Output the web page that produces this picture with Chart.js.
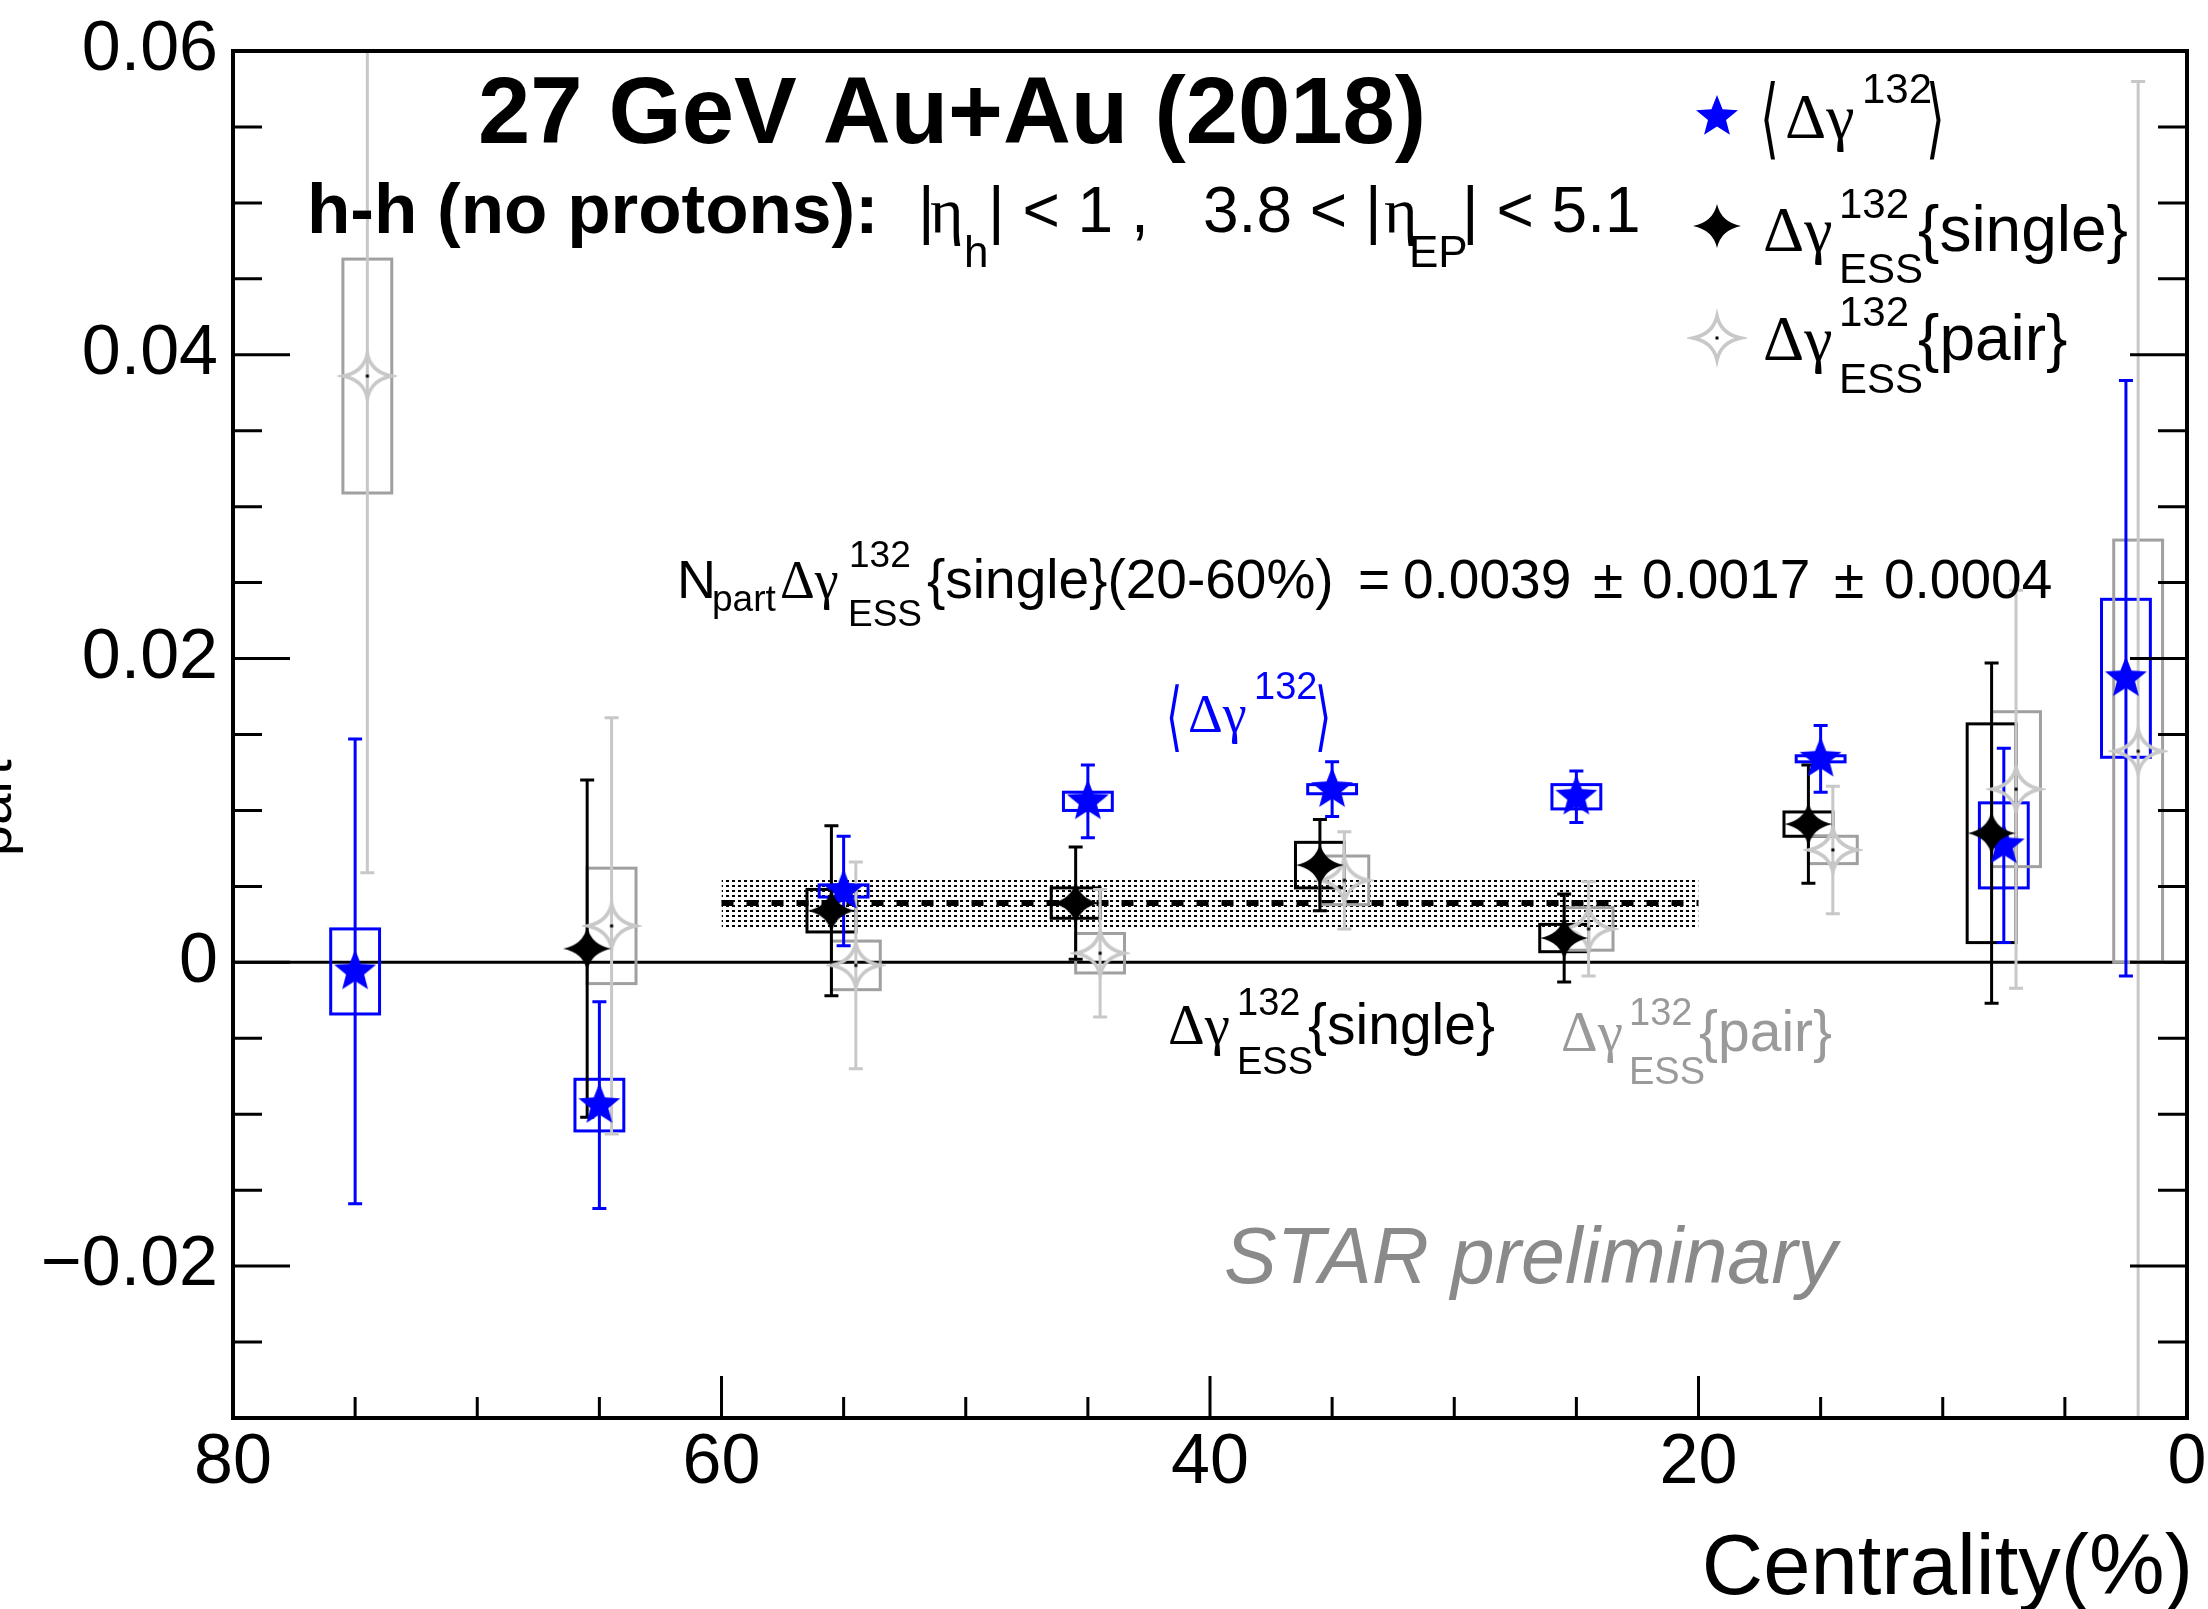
<!DOCTYPE html>
<html>
<head>
<meta charset="utf-8">
<title>27 GeV Au+Au (2018) - gamma132 vs centrality</title>
<script src="https://cdn.jsdelivr.net/npm/chart.js@4.4.1/dist/chart.umd.min.js"></script>
<style>
  html, body { margin: 0; padding: 0; background: #fff; }
  #wrap { width: 2208px; height: 1609px; }
</style>
</head>
<body>
<div id="wrap"><canvas id="gammaChart" width="2208" height="1609"></canvas></div>
<script>
// centrality bin centres (%)
const centrality = [75, 65, 55, 45, 35, 25, 15, 7.5, 2.5];

// <dgamma132> (blue stars)
const meanGamma = [-0.0006, -0.0094, 0.0047, 0.0106, 0.0114, 0.0109, 0.0134, 0.0077, 0.0187];
const meanStat = [0.0153, 0.0068, 0.0036, 0.0024, 0.0018, 0.0017, 0.0022, 0.0064, 0.0196];
const meanSys = [0.0028, 0.0017, 0.0004, 0.0006, 0.0003, 0.0008, 0.0002, 0.0028, 0.0052];

// dgamma132_ESS{single} (black stars), no 70-80% / 0-5% points
const singleCentrality = [65, 55, 45, 35, 25, 15, 7.5];
const singleGamma = [0.0009, 0.0034, 0.0039, 0.0064, 0.0016, 0.0091, 0.0085];
const singleStat = [0.0111, 0.0056, 0.0037, 0.0030, 0.0029, 0.0039, 0.0112];
const singleSys = [0, 0.0014, 0.0010, 0.0015, 0.0009, 0.0008, 0.0072];

// dgamma132_ESS{pair} (grey open stars)
const pairGamma = [0.0386, 0.0024, -0.0002, 0.0006, 0.0054, 0.0022, 0.0074, 0.0114, 0.0139];
const pairStat = [0.0327, 0.0137, 0.0068, 0.0042, 0.0032, 0.0031, 0.0042, 0.0131, 0.0441];
const pairSys = [0.0077, 0.0038, 0.0016, 0.0013, 0.0016, 0.0014, 0.0009, 0.0051, 0.0139];

// Npart * dgamma{single} averaged over 20-60%
const bandRange = [60, 20];
const bandValue = [0.0039];
const bandStat = [0.0017];

// axis ticks
const xTicks = [80, 60, 40, 20, 0];
const yTicks = [0.06, 0.04, 0.02, 0, -0.02];

const FONT = '"Liberation Sans", Arial, Helvetica, sans-serif';
const GREEK = '"Liberation Serif", "Times New Roman", serif';
const BRACKET = '"DejaVu Sans", sans-serif';
const CAP = 7;        // half width of error bar caps (px)
const BOX_HALF = 1.0; // half width of systematic boxes (centrality units)

// marker images (ROOT-like stars)
function makeMarker(kind) {
    const size = 60;
    const c = document.createElement('canvas');
    c.width = size;
    c.height = size;
    const g = c.getContext('2d');
    g.translate(size / 2, size / 2);
    if (kind === 'star5') {
        const R = 22, r = 9.5;
        g.beginPath();
        for (let k = 0; k < 10; k++) {
            const rad = k % 2 === 0 ? R : r;
            const ang = -Math.PI / 2 + k * Math.PI / 5;
            g.lineTo(rad * Math.cos(ang), rad * Math.sin(ang));
        }
        g.closePath();
        g.fillStyle = '#0000ff';
        g.fill();
    } else {
        const rx = 24, ry = 22, k = 4;
        g.beginPath();
        g.moveTo(rx, 0);
        g.quadraticCurveTo(k, k, 0, ry);
        g.quadraticCurveTo(-k, k, -rx, 0);
        g.quadraticCurveTo(-k, -k, 0, -ry);
        g.quadraticCurveTo(k, -k, rx, 0);
        g.closePath();
        if (kind === 'star4') {
            g.fillStyle = '#000';
            g.fill();
        } else {
            g.strokeStyle = '#c8c8c8';
            g.lineWidth = 3.5;
            g.stroke();
            g.fillStyle = '#000';
            g.fillRect(-1.5, -1.5, 3, 3);
        }
    }
    return c;
}

const markers = {
    mean: makeMarker('star5'),
    single: makeMarker('star4'),
    pair: makeMarker('open4')
};

// x axis is reversed: +0.5 shifts a point to the left on screen
const series = [
    { key: 'single', off: 0.5, cent: singleCentrality, val: singleGamma, stat: singleStat, sys: singleSys, errColor: '#000000', boxColor: '#000000' },
    { key: 'mean', off: 0, cent: centrality, val: meanGamma, stat: meanStat, sys: meanSys, errColor: '#0000ff', boxColor: '#0000ff' },
    { key: 'pair', off: -0.5, cent: centrality, val: pairGamma, stat: pairStat, sys: pairSys, errColor: '#c8c8c8', boxColor: '#a0a0a0' }
];

function points(s) {
    return s.cent.map((c, i) => ({ x: c + s.off, y: s.val[i] }));
}

function txt(ctx, s, x, y, size, opts) {
    opts = opts || {};
    ctx.save();
    ctx.font = (opts.style || '') + ' ' + (opts.weight || '') + ' ' + size + 'px ' + (opts.family || FONT);
    ctx.fillStyle = opts.color || '#000';
    ctx.textAlign = opts.align || 'left';
    ctx.textBaseline = 'alphabetic';
    ctx.translate(x, y);
    if (opts.sx) ctx.scale(opts.sx, 1);
    ctx.fillText(s, 0, 0);
    ctx.restore();
}

// Δγ^132_ESS{...}
function gammaLabel(ctx, x, y, big, small, scriptX, supDy, subDy, braceX, brace, color) {
    txt(ctx, 'Δγ', x, y, big, { color: color, family: GREEK });
    txt(ctx, '132', scriptX, y - supDy, small, { color: color });
    txt(ctx, 'ESS', scriptX, y + subDy, small, { color: color });
    txt(ctx, brace, braceX, y, big, { color: color });
}

const rootStyle = {
    id: 'rootStyle',
    beforeDatasetDraw(chart, args) {
        const ds = chart.data.datasets[args.index];
        if (ds.id !== 'mean') return;
        const { ctx, chartArea: a, scales: { x, y } } = chart;
        ctx.save();
        ctx.beginPath();
        ctx.rect(a.left, a.top, a.right - a.left, a.bottom - a.top);
        ctx.clip();
        ctx.lineWidth = 3;
        // systematic boxes
        series.forEach(s => {
            ctx.strokeStyle = s.boxColor;
            s.cent.forEach((c, i) => {
                if (!s.sys[i]) return;
                const x0 = x.getPixelForValue(c + s.off + BOX_HALF);
                const x1 = x.getPixelForValue(c + s.off - BOX_HALF);
                const y0 = y.getPixelForValue(s.val[i] + s.sys[i]);
                const y1 = y.getPixelForValue(s.val[i] - s.sys[i]);
                ctx.strokeRect(Math.min(x0, x1), Math.min(y0, y1), Math.abs(x1 - x0), Math.abs(y1 - y0));
            });
        });
        // statistical error bars
        series.forEach(s => {
            ctx.strokeStyle = s.errColor;
            s.cent.forEach((c, i) => {
                const px = x.getPixelForValue(c + s.off);
                const pLo = y.getPixelForValue(Math.max(y.min, s.val[i] - s.stat[i]));
                const pHi = y.getPixelForValue(Math.min(y.max, s.val[i] + s.stat[i]));
                ctx.beginPath();
                ctx.moveTo(px, pLo);
                ctx.lineTo(px, pHi);
                ctx.moveTo(px - CAP, pLo);
                ctx.lineTo(px + CAP, pLo);
                ctx.moveTo(px - CAP, pHi);
                ctx.lineTo(px + CAP, pHi);
                ctx.stroke();
            });
        });
        ctx.restore();
    },
    afterDraw(chart) {
        const { ctx, chartArea: a, scales: { x, y } } = chart;
        ctx.save();

        // frame
        ctx.strokeStyle = '#000';
        ctx.lineWidth = 4;
        ctx.strokeRect(a.left, a.top, a.right - a.left, a.bottom - a.top);

        // ticks pointing inward
        ctx.lineWidth = 3;
        ctx.beginPath();
        for (let k = -6; k <= 12; k++) {
            const py = y.getPixelForValue(k * 0.005);
            const len = k % 4 === 0 ? 57 : 29;
            ctx.moveTo(a.left, py);
            ctx.lineTo(a.left + len, py);
            ctx.moveTo(a.right, py);
            ctx.lineTo(a.right - len, py);
        }
        for (let k = 0; k <= 16; k++) {
            const px = x.getPixelForValue(k * 5);
            const len = k % 4 === 0 ? 42 : 21;
            ctx.moveTo(px, a.bottom);
            ctx.lineTo(px, a.bottom - len);
        }
        ctx.stroke();

        // title lines
        txt(ctx, '27 GeV Au+Au (2018)', 952, 143, 94, { weight: 'bold', align: 'center' });
        txt(ctx, 'h-h (no protons):', 307, 233, 71, { weight: 'bold' });
        txt(ctx, '|', 918, 232, 64);
        txt(ctx, 'η', 930, 232, 64, { family: GREEK });
        txt(ctx, 'h', 964, 267, 44);
        txt(ctx, '| < 1 ,', 988, 232, 64);
        txt(ctx, '3.8 < |', 1203, 232, 64);
        txt(ctx, 'η', 1384, 232, 64, { family: GREEK });
        txt(ctx, 'EP', 1409, 267, 44);
        txt(ctx, '| < 5.1', 1462, 232, 64);

        // legend
        ctx.drawImage(markers.mean, 1717 - 30, 117 - 30);
        ctx.drawImage(markers.single, 1717 - 30, 226 - 30);
        ctx.drawImage(markers.pair, 1717 - 30, 338 - 30);
        txt(ctx, '⟨', 1760, 148, 88, { family: BRACKET, sx: 0.55 });
        txt(ctx, 'Δγ', 1785, 138, 64, { family: GREEK });
        txt(ctx, '132', 1862, 103, 42);
        txt(ctx, '⟩', 1926, 148, 88, { family: BRACKET, sx: 0.55 });
        gammaLabel(ctx, 1763, 251, 64, 42, 1839, 33, 32, 1918, '{single}', '#000');
        gammaLabel(ctx, 1763, 360, 64, 42, 1839, 34, 33, 1918, '{pair}', '#000');

        // fit result
        txt(ctx, 'N', 677, 598, 54);
        txt(ctx, 'part', 712, 611, 37);
        txt(ctx, 'Δγ', 780, 598, 54, { family: GREEK });
        txt(ctx, '132', 849, 567, 37);
        txt(ctx, 'ESS', 848, 626, 37);
        txt(ctx, '{single}(20-60%)', 927, 598, 55);
        txt(ctx, '=', 1358, 598, 55);
        txt(ctx, '0.0039', 1403, 598, 55);
        txt(ctx, '±', 1593, 598, 55);
        txt(ctx, '0.0017', 1642, 598, 55);
        txt(ctx, '±', 1834, 598, 55);
        txt(ctx, '0.0004', 1884, 598, 55);

        // in-plot labels
        txt(ctx, '⟨', 1166, 742, 76, { family: BRACKET, color: '#0000ff', sx: 0.55 });
        txt(ctx, 'Δγ', 1188, 732, 54, { color: '#0000ff', family: GREEK });
        txt(ctx, '132', 1254, 699, 38, { color: '#0000ff' });
        txt(ctx, '⟩', 1315, 742, 76, { family: BRACKET, color: '#0000ff', sx: 0.55 });
        gammaLabel(ctx, 1168, 1044, 57, 38, 1237, 29, 30, 1308, '{single}', '#000');
        gammaLabel(ctx, 1561, 1051, 57, 38, 1629, 26, 33, 1699, '{pair}', '#9a9a9a');

        txt(ctx, 'STAR preliminary', 1224, 1283, 79, { style: 'italic', color: '#8a8a8a' });

        // axis titles
        txt(ctx, 'Centrality(%)', 2193, 1594, 85, { align: 'right' });
        ctx.translate(11, 856);
        ctx.rotate(-Math.PI / 2);
        txt(ctx, 'part', 0, 0, 56);

        ctx.restore();
    }
};

function initializeChart() {
    const el = document.getElementById('gammaChart');
    const c2d = el.getContext('2d');

    // dotted fill for the 20-60% band
    const tile = document.createElement('canvas');
    tile.width = 6;
    tile.height = 5;
    const tg = tile.getContext('2d');
    tg.fillStyle = '#000';
    tg.fillRect(0, 0, 3, 2);
    const dots = c2d.createPattern(tile, 'repeat');

    const bandLine = v => bandRange.map(c => ({ x: c, y: v }));
    const markerSet = (s, order) => ({
        id: s.key,
        type: 'scatter',
        data: points(s),
        pointStyle: markers[s.key],
        pointRadius: 20,
        showLine: false,
        order: order
    });

    const datasets = [
        { id: 'bandLow', type: 'line', data: bandLine(bandValue[0] - bandStat[0]), borderWidth: 0, pointRadius: 0, fill: false, order: 7 },
        { id: 'bandHigh', type: 'line', data: bandLine(bandValue[0] + bandStat[0]), borderWidth: 0, pointRadius: 0, fill: '-1', backgroundColor: dots, order: 6 },
        { id: 'bandMean', type: 'line', data: bandLine(bandValue[0]), borderColor: '#000', borderWidth: 6, borderDash: [12, 13], pointRadius: 0, fill: false, order: 5 },
        { id: 'zero', type: 'line', data: [{ x: 80, y: 0 }, { x: 0, y: 0 }], borderColor: '#000', borderWidth: 3, pointRadius: 0, fill: false, order: 4 },
        markerSet(series[1], 3),
        markerSet(series[2], 2),
        markerSet(series[0], 1)
    ];

    window.gammaChart = new Chart(el, {
        type: 'scatter',
        data: { datasets: datasets },
        options: {
            responsive: false,
            devicePixelRatio: 1,
            animation: false,
            layout: { padding: { top: 51, right: 8, left: 0, bottom: 0 } },
            plugins: {
                legend: { display: false },
                tooltip: { enabled: false }
            },
            scales: {
                x: {
                    type: 'linear',
                    position: 'bottom',
                    reverse: true,
                    min: 0,
                    max: 80,
                    grid: { display: false, drawTicks: false },
                    border: { display: false },
                    ticks: {
                        font: { family: FONT, size: 70 },
                        color: '#000',
                        padding: 4,
                        maxRotation: 0,
                        autoSkip: false,
                        callback: v => String(v)
                    },
                    afterBuildTicks: s => { s.ticks = xTicks.map(v => ({ value: v })); },
                    afterFit: s => { s.height = 191; s.paddingLeft = 0; s.paddingRight = 0; }
                },
                y: {
                    type: 'linear',
                    position: 'left',
                    min: -0.03,
                    max: 0.06,
                    grid: { display: false, drawTicks: false },
                    border: { display: false },
                    ticks: {
                        font: { family: FONT, size: 70 },
                        color: '#000',
                        padding: 15,
                        autoSkip: false,
                        callback: v => v === 0 ? '0' : (v < 0 ? '\u2212' : '') + Math.abs(v).toFixed(2)
                    },
                    afterBuildTicks: s => { s.ticks = yTicks.map(v => ({ value: v })); },
                    afterFit: s => { s.width = 233; s.paddingTop = 0; s.paddingBottom = 0; }
                }
            }
        },
        plugins: [rootStyle]
    });
}

document.addEventListener('DOMContentLoaded', initializeChart);
</script>
</body>
</html>
